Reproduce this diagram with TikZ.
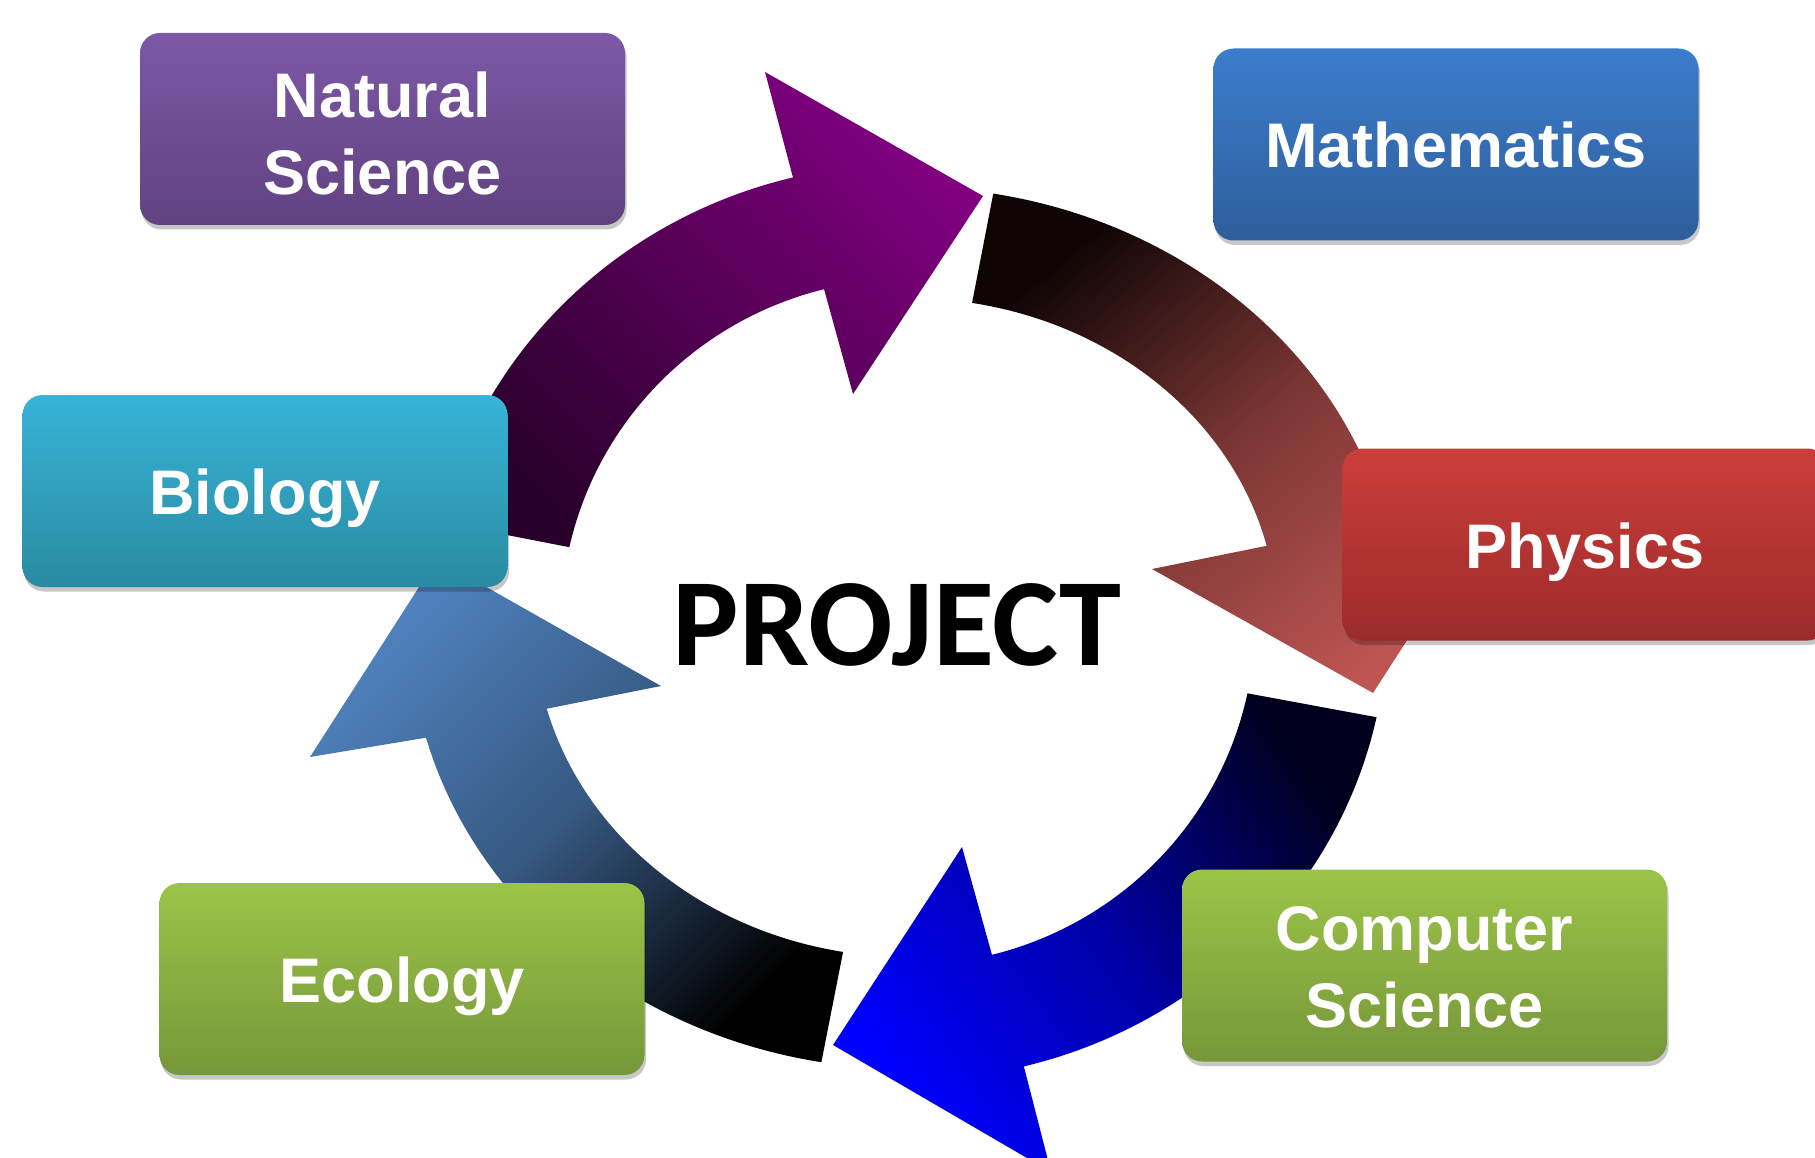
\documentclass[tikz,border=0pt]{standalone}
\usepackage{fontspec}
\setmainfont{Liberation Sans}
\newfontfamily\projfont{Carlito}
\usetikzlibrary{shadows}

\definecolor{purpleHi}{RGB}{128,0,128}
\definecolor{purpleLo}{RGB}{40,0,42}
\definecolor{redHi}{RGB}{190,85,82}
\definecolor{redLo}{RGB}{15,5,5}
\definecolor{blueHi}{RGB}{0,0,255}
\definecolor{blueLo}{RGB}{0,0,30}
\definecolor{steelHi}{RGB}{79,129,189}
\definecolor{steelLo}{RGB}{0,0,0}

\definecolor{nsT}{RGB}{125,88,166}
\definecolor{nsB}{RGB}{96,66,128}
\definecolor{mathT}{RGB}{60,125,205}
\definecolor{mathB}{RGB}{46,94,155}
\definecolor{physT}{RGB}{204,62,58}
\definecolor{physB}{RGB}{155,43,43}
\definecolor{bioT}{RGB}{55,180,215}
\definecolor{bioB}{RGB}{42,138,162}
\definecolor{greenT}{RGB}{156,196,72}
\definecolor{greenB}{RGB}{118,151,58}

\begin{document}
\begin{tikzpicture}[x=1pt,y=1pt,
  box/.style={rectangle, rounded corners=20pt, minimum width=485pt, minimum height=192pt,
    inner sep=0pt, draw=none,
    drop shadow={shadow xshift=1.5pt, shadow yshift=-4.5pt, opacity=0.22, fill=black}},
  lbl/.style={text=white, font=\fontsize{63}{77}\selectfont\bfseries, inner sep=0pt, align=center},
]
\useasboundingbox (0,0) rectangle (1815,-1158);
\clip (0,0) rectangle (1815,-1158);

% ring of arrows
\begin{scope}[shift={(908,-622)}]
  % top arrow (purple)
  \shade[top color=purpleHi, bottom color=purpleLo, middle color=purpleHi!50!purpleLo, shading angle=-45]
    (167.4:479 and 458) arc[start angle=167.4, end angle=103.9, x radius=479, y radius=458]
    -- (-143,550) -- (75,426) -- (-55,228)
    -- (104:347 and 343) arc[start angle=104, end angle=167.4, x radius=347, y radius=343]
    -- cycle;
  % right arrow (dark brown to red)
  \shade[top color=redHi, bottom color=redLo, middle color=redHi!62!redLo, shading angle=-140]
    (80:491 and 435) arc[start angle=80, end angle=13.6, x radius=491, y radius=435]
    -- (598,135) -- (465,-71) -- (244,53)
    -- (13.6:369 and 324) arc[start angle=13.6, end angle=80, x radius=369, y radius=324]
    -- cycle;
  % bottom arrow (navy to blue)
  \shade[top color=blueHi, bottom color=blueLo, middle color=blueHi!60!blueLo, shading angle=125]
    (-12:479 and 458) arc[start angle=-12, end angle=-76, x radius=479, y radius=458]
    -- (143,-550) -- (-75,-423) -- (54,-225)
    -- (-76:347 and 343) arc[start angle=-76, end angle=-12, x radius=347, y radius=343]
    -- cycle;
  % left arrow (black to steel blue)
  \shade[top color=steelHi, bottom color=steelLo, middle color=steelHi!68!steelLo, shading angle=45]
    (260:499 and 447) arc[start angle=260, end angle=195, x radius=499, y radius=447]
    -- (-598,-135) -- (-471,63) -- (-247,-64)
    -- (195:374 and 335) arc[start angle=195, end angle=260, x radius=374, y radius=335]
    -- cycle;
\end{scope}

% boxes
\node[box, top color=nsT, bottom color=nsB] (ns) at (382.5,-129) {};
\node[box, top color=mathT, bottom color=mathB] (math) at (1456,-144.5) {};
\node[box, top color=physT, bottom color=physB] (phys) at (1585,-544.5) {};
\node[box, top color=bioT, bottom color=bioB] (bio) at (265,-491) {};
\node[box, top color=greenT, bottom color=greenB] (eco) at (402,-979) {};
\node[box, top color=greenT, bottom color=greenB] (cs) at (1424.5,-965.5) {};

% labels
\node[lbl, anchor=north] (nsL) at (382.5,-72) {Natural\\Science};
\node[lbl, anchor=base] (mathL) at (1456,-168) {Mathematics};
\node[lbl, anchor=base] (physL) at (1585,-568) {Physics};
\node[lbl, anchor=base] (bioL) at (265,-514) {Biology};
\node[lbl, anchor=base] (ecoL) at (402,-1002) {Ecology};
\node[lbl, anchor=north] (csL) at (1424.5,-906.5) {Computer\\Science};

% centre
\node[font=\projfont\fontsize{125}{130}\selectfont\bfseries, inner sep=0pt, anchor=base] (proj) at (897,-665) {PROJECT};
\end{tikzpicture}
\end{document}
